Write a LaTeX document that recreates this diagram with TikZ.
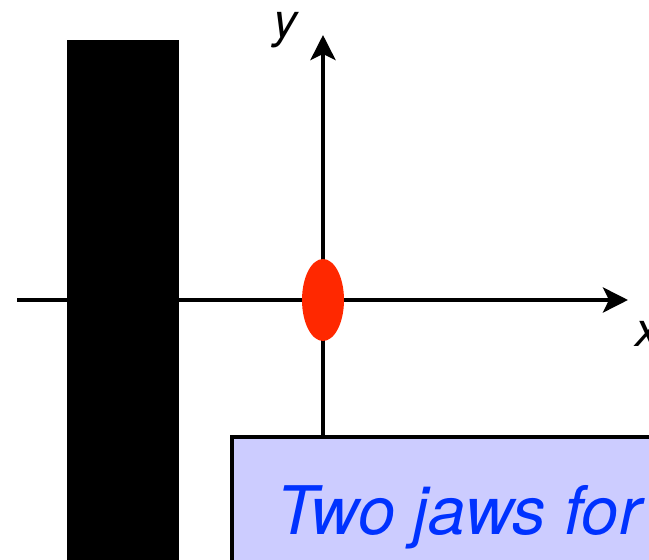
\documentclass[tikz,border=0pt]{standalone}
\usepackage{fontspec}
\setmainfont{TeX Gyre Heros}
\usepackage{xcolor}
\usetikzlibrary{arrows.meta, shapes.geometric, positioning, backgrounds}
\definecolor{beamred}{RGB}{255,40,0}
\definecolor{boxfill}{RGB}{204,204,255}
\definecolor{boxtext}{RGB}{0,50,255}
\tikzset{
  axis/.style={line width=2.2pt, -{Stealth[length=12.5pt, width=12.5pt, inset=3pt]}},
  axislabel/.style={font=\fontsize{24}{28}\selectfont\itshape, inner sep=0pt},
  jawbar/.style={fill=black, inner sep=0pt, minimum width=56pt, minimum height=270pt},
  beamspot/.style={ellipse, fill=beamred, inner sep=0pt, minimum width=21pt, minimum height=41pt},
  notebox/.style={draw=black, line width=2pt, fill=boxfill, text=boxtext,
    font=\fontsize{33.5}{40}\selectfont\itshape, inner xsep=4.5pt,
    minimum width=227pt, minimum height=80pt, align=left}
}

\begin{document}
\begin{tikzpicture}[x=0.5pt, y=-0.5pt]
\useasboundingbox (0,0) rectangle (649,560);
\clip (0,0) rectangle (649,560);
    \coordinate (xstart) at (17,300);
    \coordinate (xtip) at (628,300);
    \coordinate (ytip) at (323,35);
    \node[jawbar, anchor=north west] (jaw) at (67,40) {};
    \node[beamspot] (beam) at (323,300) {};
    \node[notebox, anchor=north west] (box) at (230,435) {Two jaws for};
    \node[axislabel] (ylab) at (285,30) {y};
    \node[axislabel] (xlab) at (647,334) {x};
% axes behind the jaw, the beam and the box
\begin{scope}[on background layer]
    \draw[axis] (xstart) -- (xtip);
    \draw[axis] (beam |- box.north) -- (ytip);
\end{scope}
\end{tikzpicture}
\end{document}
